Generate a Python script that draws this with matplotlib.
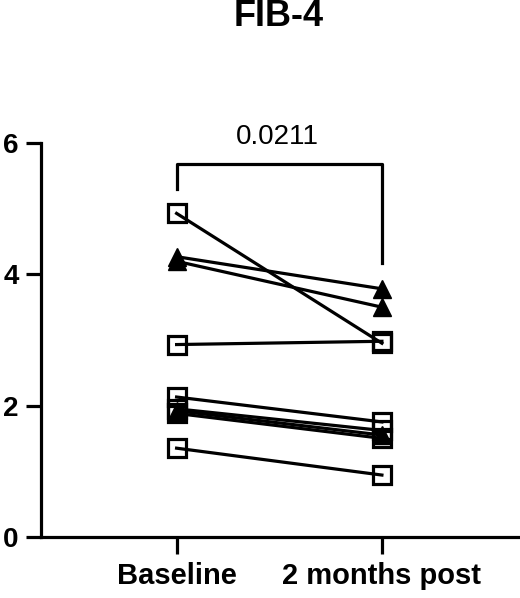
import matplotlib.pyplot as plt

plt.rcParams['font.family'] = ['Liberation Sans', 'DejaVu Sans']

timepoints = ["Baseline", "2 months post"]
baseline = [4.93, 4.27, 4.20, 2.93, 2.13, 1.95, 1.92, 1.88, 1.35]
post = [2.95, 3.78, 3.50, 2.98, 1.75, 1.62, 1.55, 1.50, 0.94]
markers = ["s", "^", "^", "s", "s", "s", "^", "s", "s"]
p_value = "0.0211"

fig = plt.figure(figsize=(5.2, 5.98), dpi=100)
ax = fig.add_axes([0.079, 0.1025, 0.92, 0.658])

for b, p, m in zip(baseline, post, markers):
    if m == "s":
        ax.plot([0, 1], [b, p], color="black", lw=2.3, marker="s", ms=13,
                mfc="none", mec="black", mew=2.3)
    else:
        ax.plot([0, 1], [b, p], color="black", lw=2.3, marker="^", ms=13,
                mfc="black", mec="black")

# significance bracket
ax.plot([0, 0, 1, 1], [5.3, 5.69, 5.69, 4.18], color="black", lw=2.3,
        clip_on=False)
ax.text(0.49, 6.1, p_value, ha="center", va="center", fontsize=20)

ax.set_xlim(-0.66, 1.67)
ax.set_ylim(0, 6)
ax.set_xticks([0, 1])
ax.set_xticklabels(timepoints, fontsize=21, fontweight="bold")
ax.set_yticks([0, 2, 4, 6])
ax.set_yticklabels(["0", "2", "4", "6"], fontsize=20, fontweight="bold")
ax.tick_params(axis="y", length=11, width=2.3, pad=5)
ax.tick_params(axis="x", length=12, width=2.3, pad=6)
for s in ["top", "right"]:
    ax.spines[s].set_visible(False)
for s in ["left", "bottom"]:
    ax.spines[s].set_linewidth(2.3)

fig.text(0.535, 0.972, "FIB-4", ha="center", va="center", fontsize=26,
         fontweight="bold")

fig.savefig("out.png", dpi=100)
